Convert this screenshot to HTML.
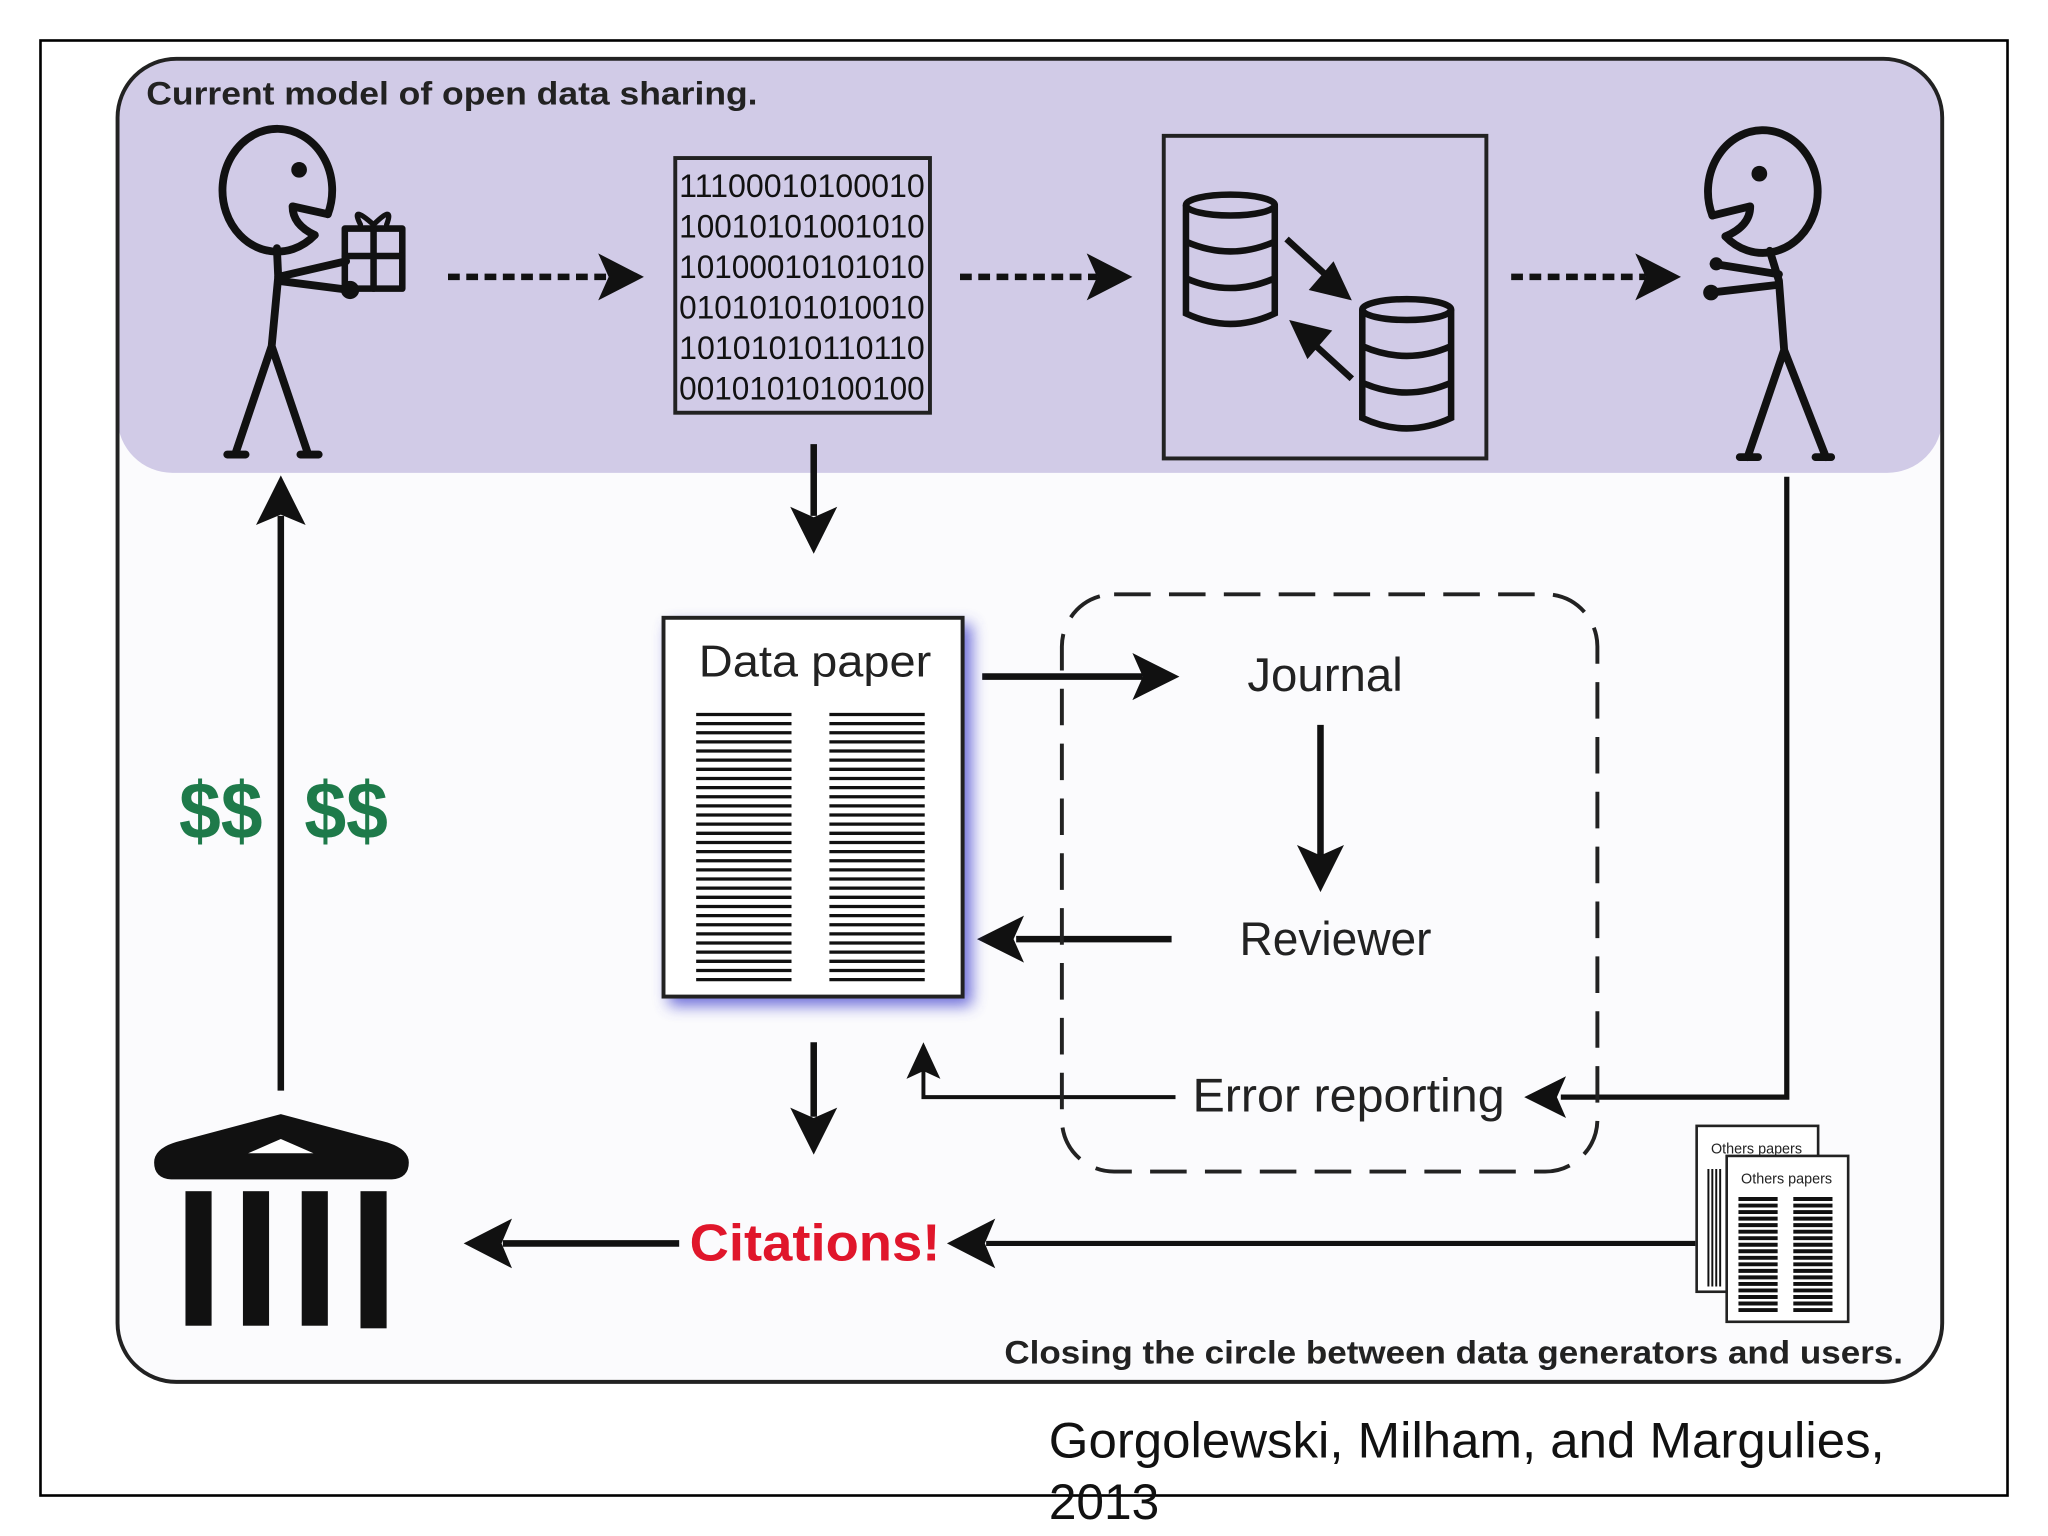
<!DOCTYPE html>
<html><head><meta charset="utf-8"><style>
html,body{margin:0;padding:0;background:#fff}
svg{display:block}
text{font-family:"Liberation Sans","DejaVu Sans",sans-serif}
</style></head><body>
<svg width="2048" height="1536" viewBox="0 0 1568 1176" xmlns="http://www.w3.org/2000/svg">
<defs>
<filter id="sh" x="-20%" y="-20%" width="140%" height="140%"><feGaussianBlur stdDeviation="6"/></filter>
<clipPath id="pc"><rect x="90" y="45" width="1397" height="1013" rx="45"/></clipPath>
</defs>
<rect width="1568" height="1176" fill="#fff"/>
<rect x="31" y="31" width="1506" height="1114" fill="none" stroke="#000" stroke-width="2"/>
<rect x="90" y="45" width="1397" height="1013" rx="45" fill="#fbfbfd"/>
<g clip-path="url(#pc)"><rect x="90" y="45" width="1397" height="317" rx="42" fill="#d1cbe7"/><rect x="90" y="45" width="1397" height="200" fill="#d1cbe7"/></g>
<rect x="90" y="45" width="1397" height="1013" rx="45" fill="none" stroke="#222" stroke-width="3"/>
<text x="112" y="80" font-size="25" font-weight="bold" fill="#222" textLength="468" lengthAdjust="spacingAndGlyphs">Current model of open data sharing.</text>

<!-- left figure -->
<g stroke="#111" stroke-width="6" fill="none" stroke-linecap="round" stroke-linejoin="round">
<path d="M251,164 A42,47 0 1 0 241,180"/>
<path d="M251,164 L224,158 Q224,172 241,180"/>
<path d="M212,190 L213,212 L208,265 L180,348 M208,265 L236,348 M174,348 H188 M230,348 H244"/>
<path d="M213,212 L265,200 M213,215 L268,222"/>
<rect x="264" y="175" width="44" height="46" stroke-width="5"/>
<path d="M286,175 V221 M264,196 H308" stroke-width="5"/>
<path d="M286,172 Q268,156 276,172 M286,172 Q302,156 296,172" stroke-width="4"/>
</g>
<circle cx="229" cy="130" r="6" fill="#111"/>
<circle cx="268" cy="222" r="7" fill="#111"/>

<!-- right figure -->
<g stroke="#111" stroke-width="6" fill="none" stroke-linecap="round" stroke-linejoin="round">
<path d="M1311,165 A42,47 0 1 1 1321,181"/>
<path d="M1311,165 L1340,158 Q1340,173 1321,181"/>
<path d="M1355,192 L1362,215 L1366,268 L1338,350 M1366,268 L1398,350 M1332,350 H1346 M1390,350 H1402"/>
<path d="M1362,210 L1312,202 M1362,218 L1310,224"/>
</g>
<circle cx="1347" cy="133" r="6" fill="#111"/>
<circle cx="1310" cy="224" r="6" fill="#111"/>
<circle cx="1314" cy="202" r="5" fill="#111"/>

<!-- binary box -->
<rect x="517" y="121" width="195" height="195" fill="none" stroke="#222" stroke-width="3"/>
<g font-size="25" fill="#111">
<text x="520" y="151" textLength="188" lengthAdjust="spacingAndGlyphs">11100010100010</text>
<text x="520" y="182" textLength="188" lengthAdjust="spacingAndGlyphs">10010101001010</text>
<text x="520" y="213" textLength="188" lengthAdjust="spacingAndGlyphs">10100010101010</text>
<text x="520" y="244" textLength="188" lengthAdjust="spacingAndGlyphs">01010101010010</text>
<text x="520" y="275" textLength="188" lengthAdjust="spacingAndGlyphs">10101010110110</text>
<text x="520" y="306" textLength="188" lengthAdjust="spacingAndGlyphs">00101010100100</text>
</g>

<!-- db box -->
<rect x="891" y="104" width="247" height="247" fill="none" stroke="#222" stroke-width="3"/>
<g stroke="#111" stroke-width="5" fill="none">
<ellipse cx="942" cy="157" rx="34" ry="8"/>
<path d="M908,157 V240 Q942,256 976,240 V157 M908,185 Q942,200 976,185 M908,213 Q942,228 976,213"/>
<ellipse cx="1077" cy="237" rx="34" ry="8"/>
<path d="M1043,237 V320 Q1077,336 1111,320 V237 M1043,265 Q1077,280 1111,265 M1043,293 Q1077,308 1111,293"/>
<path d="M985,183 L1020,215 M1035,290 L1000,258"/>
</g>
<polygon points="1035,230 1002,222 1021,200" fill="#111"/>
<polygon points="987,245 1020,253 1001,275" fill="#111"/>

<!-- dashed arrows -->
<g stroke="#111" stroke-width="5" stroke-dasharray="9,5">
<path d="M343,212 H465"/><path d="M735,212 H840"/><path d="M1157,212 H1260"/>
</g>
<g fill="#111">
<polygon points="493,212 458,194 466,212 458,230"/>
<polygon points="867,212 832,194 840,212 832,230"/>
<polygon points="1287,212 1252,194 1260,212 1252,230"/>
</g>

<!-- solid arrows -->
<g stroke="#111" stroke-width="5" fill="none">
<path d="M623,340 V395"/>
<path d="M623,798 V855"/>
<path d="M752,518 H875"/>
<path d="M1011,555 V655"/>
<path d="M897,719 H778"/>
<path d="M900,840 H707 V815" stroke-width="3"/>
<path d="M1368,365 V840 H1195" stroke-width="4"/>
<path d="M1298,952 H755" stroke-width="4"/>
<path d="M520,952 H385"/>
<path d="M215,835 V395"/>
</g>
<g fill="#111">
<polygon points="623,424 605,388 623,396 641,388"/>
<polygon points="623,884 605,848 623,856 641,848"/>
<polygon points="903,518 867,500 875,518 867,536"/>
<polygon points="1011,683 993,647 1011,655 1029,647"/>
<polygon points="748,719 784,701 776,719 784,737"/>
<polygon points="707,798 694,826 707,820 720,826"/>
<polygon points="1167,840 1199,824 1192,840 1199,856"/>
<polygon points="725,952 762,933 754,952 762,971"/>
<polygon points="355,952 392,933 384,952 392,971"/>
<polygon points="215,364 196,402 215,394 234,402"/>
</g>

<!-- dashed box -->
<rect x="813" y="455" width="410" height="442" rx="40" fill="none" stroke="#222" stroke-width="3" stroke-dasharray="28,14"/>

<!-- data paper -->
<rect x="512" y="478" width="232" height="292" fill="#4a4ad0" filter="url(#sh)" opacity="0.8"/>
<rect x="508" y="473" width="229" height="290" fill="#fff" stroke="#222" stroke-width="3"/>
<text x="535" y="518" font-size="34" fill="#222" textLength="178" lengthAdjust="spacingAndGlyphs">Data paper</text>
<g stroke="#111" stroke-width="2.5">
<path d="M533,547H606M635,547H708M533,554H606M635,554H708M533,561H606M635,561H708M533,568H606M635,568H708M533,575H606M635,575H708M533,582H606M635,582H708M533,589H606M635,589H708M533,596H606M635,596H708M533,603H606M635,603H708M533,610H606M635,610H708M533,617H606M635,617H708M533,624H606M635,624H708M533,631H606M635,631H708M533,638H606M635,638H708M533,645H606M635,645H708M533,652H606M635,652H708M533,659H606M635,659H708M533,666H606M635,666H708M533,673H606M635,673H708M533,680H606M635,680H708M533,687H606M635,687H708M533,694H606M635,694H708M533,701H606M635,701H708M533,708H606M635,708H708M533,715H606M635,715H708M533,722H606M635,722H708M533,729H606M635,729H708M533,736H606M635,736H708M533,743H606M635,743H708M533,750H606M635,750H708"/>
</g>

<text x="955" y="529" font-size="36" fill="#222" textLength="119" lengthAdjust="spacingAndGlyphs">Journal</text>
<text x="949" y="731" font-size="36" fill="#222" textLength="147" lengthAdjust="spacingAndGlyphs">Reviewer</text>
<text x="913" y="851" font-size="36" fill="#222" textLength="239" lengthAdjust="spacingAndGlyphs">Error reporting</text>
<text x="528" y="965" font-size="40" font-weight="bold" fill="#e0162b" textLength="192" lengthAdjust="spacingAndGlyphs">Citations!</text>

<text x="137" y="642" font-size="62" font-weight="bold" fill="#1e7a4a" textLength="64" lengthAdjust="spacingAndGlyphs">$$</text>
<text x="233" y="642" font-size="62" font-weight="bold" fill="#1e7a4a" textLength="64" lengthAdjust="spacingAndGlyphs">$$</text>

<!-- building -->
<path d="M118,890 Q118,878 140,873 L215,853 L290,873 Q313,878 313,890 Q313,902 300,903 H131 Q118,902 118,890Z" fill="#111"/>
<polygon points="215,872 190,883 240,883" fill="#fff"/>
<g fill="#111"><rect x="142" y="912" width="20" height="103"/><rect x="186" y="912" width="20" height="103"/><rect x="231" y="912" width="20" height="103"/><rect x="276" y="912" width="20" height="105"/></g>

<!-- others papers -->
<rect x="1299" y="862" width="93" height="127" fill="#fff" stroke="#222" stroke-width="2"/>
<text x="1310" y="883" font-size="11" fill="#222">Others papers</text>
<g stroke="#111" stroke-width="1.5"><path d="M1308,895V985M1311,895V985M1314,895V985M1317,895V985"/></g>
<rect x="1322" y="885" width="93" height="127" fill="#fff" stroke="#222" stroke-width="2"/>
<text x="1333" y="906" font-size="11" fill="#222">Others papers</text>
<g stroke="#111" stroke-width="3"><path d="M1331,918H1361M1331,923H1361M1331,928H1361M1331,933H1361M1331,938H1361M1331,943H1361M1331,948H1361M1331,953H1361M1331,958H1361M1331,963H1361M1331,968H1361M1331,973H1361M1331,978H1361M1331,983H1361M1331,988H1361M1331,993H1361M1331,998H1361M1331,1003H1361M1373,918H1403M1373,923H1403M1373,928H1403M1373,933H1403M1373,938H1403M1373,943H1403M1373,948H1403M1373,953H1403M1373,958H1403M1373,963H1403M1373,968H1403M1373,973H1403M1373,978H1403M1373,983H1403M1373,988H1403M1373,993H1403M1373,998H1403M1373,1003H1403"/></g>

<text x="769" y="1044" font-size="25" font-weight="bold" fill="#222" textLength="688" lengthAdjust="spacingAndGlyphs">Closing the circle between data generators and users.</text>
<text x="803" y="1116" font-size="38" fill="#111" textLength="640" lengthAdjust="spacingAndGlyphs">Gorgolewski, Milham, and Margulies,</text>
<text x="803" y="1163" font-size="38" fill="#111">2013</text>
</svg>
</body></html>
